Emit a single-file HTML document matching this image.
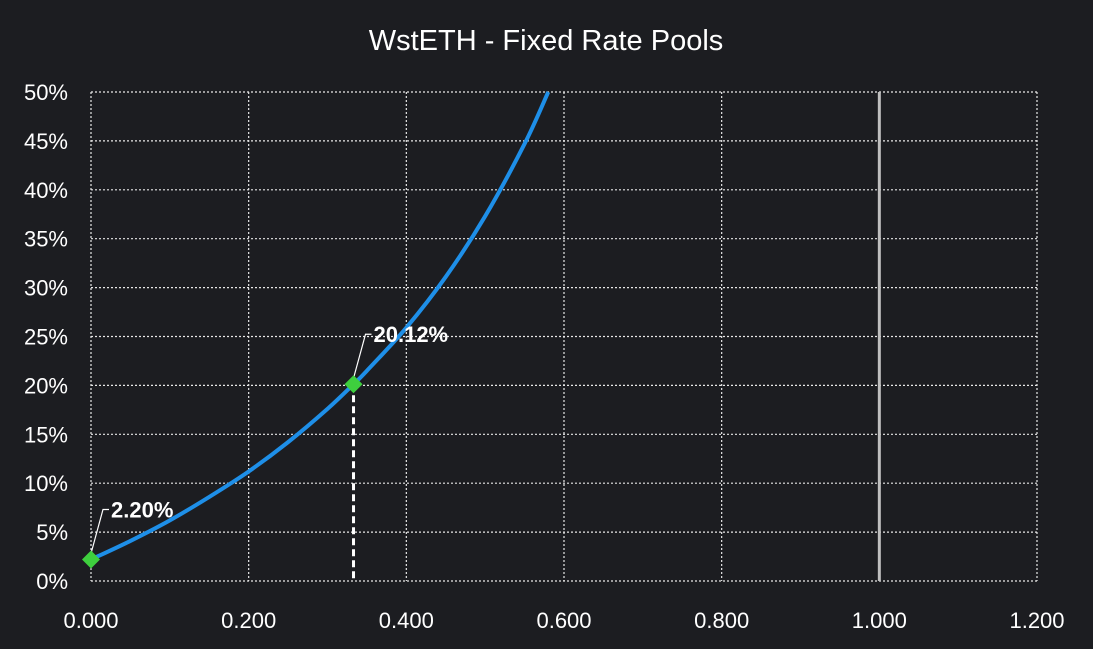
<!DOCTYPE html>
<html><head><meta charset="utf-8"><style>
html,body{margin:0;padding:0;background:#1c1d21;}
svg{display:block;font-family:"Liberation Sans",sans-serif;}
</style></head><body>
<svg id="chart" width="1093" height="649" viewBox="0 0 1093 649">
<rect width="1093" height="649" fill="#1c1d21"/>
<text x="546" y="50" text-anchor="middle" fill="#ffffff" font-size="29">WstETH - Fixed Rate Pools</text>
<g id="grid"></g><g id="axes"></g><g id="series"></g>
</svg>
<script>
const xTicks=[0,0.2,0.4,0.6,0.8,1.0,1.2];
const xTickLabels=["0.000","0.200","0.400","0.600","0.800","1.000","1.200"];
const yTicks=[0,5,10,15,20,25,30,35,40,45,50];
const yTickLabels=["0%","5%","10%","15%","20%","25%","30%","35%","40%","45%","50%"];
const curveX=[0,0.05,0.1,0.15,0.2,0.25,0.3,0.333,0.35,0.4,0.45,0.5,0.55,0.58];
const curveY=[2.2,4.1,6.2,8.6,11.2,14.2,17.6,20.12,21.5,25.9,31.1,37.3,44.7,50];
const markerX=[0,0.333];
const markerY=[2.2,20.12];
const markerLabels=["2.20%","20.12%"];
const maxLineX=1.0;

const NS="http://www.w3.org/2000/svg";
const x0=91,x1=1037,y0=581,y1=92;
const sx=v=>x0+(v-0)/(1.2)*(x1-x0);
const sy=v=>y0-(v/50)*(y0-y1);
function mk(tag,attrs,parent){const e=document.createElementNS(NS,tag);for(const k in attrs)e.setAttribute(k,attrs[k]);parent.appendChild(e);return e;}
const grid=document.getElementById('grid'),axes=document.getElementById('axes'),series=document.getElementById('series');
yTicks.forEach((t,i)=>{
  const l=mk('line',{x1:x0,x2:x1,y1:sy(t),y2:sy(t),stroke:'#e8e8e8','stroke-width':1.2,'stroke-dasharray':'2,2'},grid);
  
  
  const tx=mk('text',{x:68,y:sy(t)+8,'text-anchor':'end',fill:'#ffffff','font-size':22},axes);
  tx.textContent=yTickLabels[i];
  
  
});
xTicks.forEach((t,i)=>{
  const l=mk('line',{x1:sx(t),x2:sx(t),y1:y1,y2:y0,stroke:'#e8e8e8','stroke-width':1.2,'stroke-dasharray':'2,2'},grid);
  
  
  const tx=mk('text',{x:sx(t),y:628,'text-anchor':'middle',fill:'#ffffff','font-size':22},axes);
  tx.textContent=xTickLabels[i];
  
  
});
const ml=mk('line',{x1:sx(maxLineX),x2:sx(maxLineX),y1:y1,y2:y0,stroke:'#bfbfbf','stroke-width':3},series);


const P=curveX.map((v,i)=>[sx(v),sy(curveY[i])]);
let d='M'+P[0][0]+','+P[0][1];
for(let i=0;i<P.length-1;i++){const p0=P[i-1]||P[i],p1=P[i],p2=P[i+1],p3=P[i+2]||p2;
 d+=` C${p1[0]+(p2[0]-p0[0])/6},${p1[1]+(p2[1]-p0[1])/6} ${p2[0]-(p3[0]-p1[0])/6},${p2[1]-(p3[1]-p1[1])/6} ${p2[0]},${p2[1]}`;}
const c=mk('path',{d:d,fill:'none',stroke:'#1e8fe8','stroke-width':4},series);


const dl=mk('line',{x1:sx(markerX[1]),x2:sx(markerX[1]),y1:sy(markerY[1]),y2:y0,stroke:'#ffffff','stroke-width':3,'stroke-dasharray':'7,4'},series);


markerX.forEach((v,i)=>{
  const cx=sx(v),cy=sy(markerY[i]);
  const lead=mk('polyline',{points:`${cx},${cy-6} ${cx+12},${cy-50} ${cx+18},${cy-50}`,fill:'none',stroke:'#ffffff','stroke-width':1.2},series);
  
  
  const m=mk('polygon',{points:`${cx},${cy-9} ${cx+9},${cy} ${cx},${cy+9} ${cx-9},${cy}`,fill:'#3ecf3e'},series);
  
  
  const t=mk('text',{x:cx+20,y:cy-42,fill:'#ffffff','font-size':22,'font-weight':'bold'},series);
  t.textContent=markerLabels[i];
  
  
});
</script>
</body></html>
